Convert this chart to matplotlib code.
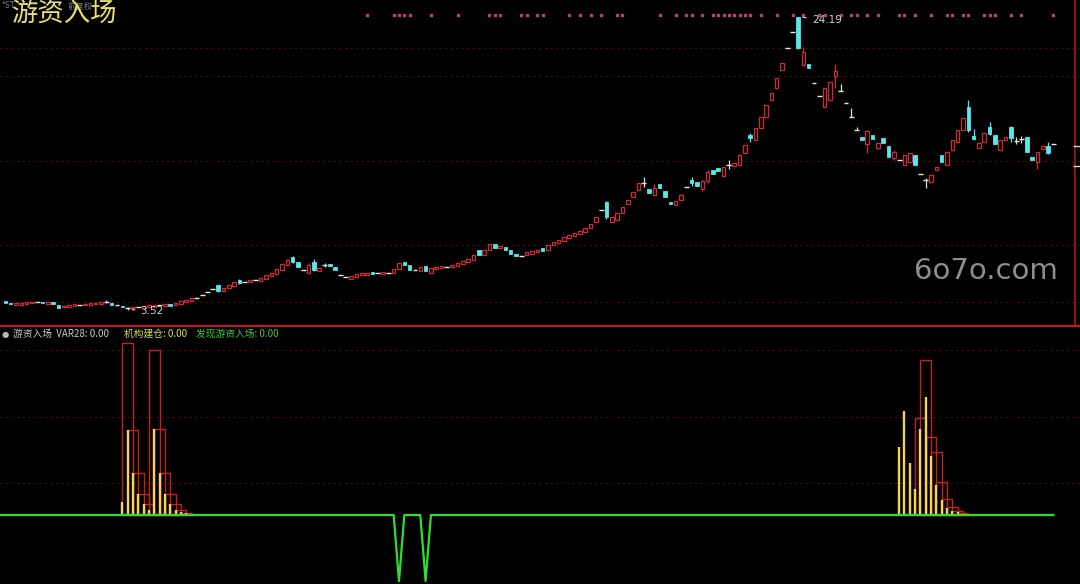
import matplotlib
matplotlib.use("Agg")
import matplotlib.pyplot as plt
import numpy as np
from matplotlib.lines import Line2D

plt.rcParams["font.family"] = ["Noto Sans CJK SC", "DejaVu Sans"]

# daily candles, front-adjusted prices
opens = [
    4.16, 4.02, 3.84, 3.90, 3.96, 3.98, 4.05, 4.10, 3.96, 4.06,
    3.88, 3.70, 3.76, 3.80, 3.88, 3.84, 3.88, 3.92, 3.96, 4.10,
    4.00, 3.84, 3.82, 3.66, 3.64, 3.72, 3.64, 3.70, 3.76, 3.84,
    3.80, 3.94, 3.84, 3.96, 4.06, 4.16, 4.40, 4.58, 4.76, 4.98,
    5.25, 4.88, 5.04, 5.22, 5.66, 5.48, 5.46, 5.62, 5.58, 5.74,
    5.90, 6.06, 6.34, 6.70, 7.28, 6.92, 6.34, 6.15, 6.90, 6.30,
    6.66, 6.78, 6.56, 5.99, 5.85, 5.70, 5.86, 5.98, 6.02, 6.18,
    6.12, 6.04, 6.10, 6.10, 6.42, 6.92, 6.68, 6.34, 6.28, 6.62,
    6.15, 6.44, 6.50, 6.58, 6.52, 6.62, 6.76, 6.92, 7.08, 7.78,
    7.42, 7.76, 8.15, 7.86, 7.98, 7.75, 7.44, 7.33, 7.40, 7.50,
    7.60, 7.86, 7.72, 8.08, 8.28, 8.42, 8.60, 8.74, 8.88, 9.02,
    9.30, 9.73, 10.58, 11.15, 9.75, 9.90, 10.36, 11.02, 11.48, 11.96,
    12.48, 12.05, 11.66, 12.38, 11.90, 11.16, 10.95, 11.30, 12.20, 12.70,
    12.52, 12.08, 12.60, 13.40, 13.55, 13.00, 13.75, 13.66, 13.75, 14.60,
    15.87, 15.50, 16.36, 17.10, 18.34, 19.20, 20.45, 22.00, 23.10, 24.19,
    20.80, 20.85, 19.50, 18.60, 17.84, 18.34, 20.05, 19.00, 18.10, 17.14,
    16.22, 15.75, 15.20, 15.85, 14.98, 15.62, 15.12, 14.26, 14.10, 13.76,
    13.96, 14.45, 13.10, 12.70, 12.58, 13.40, 14.45, 13.76, 14.80, 15.38,
    16.22, 17.82, 15.80, 14.92, 15.40, 16.45, 15.90, 14.80, 15.50, 16.40,
    15.45, 15.55, 15.70, 14.34, 13.98, 14.90, 15.10, 15.20,
]
closes = [
    4.02, 3.92, 3.98, 4.04, 4.08, 4.10, 4.05, 3.98, 4.06, 3.94,
    3.66, 3.82, 3.88, 3.92, 3.88, 3.96, 4.00, 4.04, 4.10, 4.10,
    3.86, 3.84, 3.70, 3.66, 3.76, 3.72, 3.78, 3.84, 3.88, 3.84,
    3.94, 3.80, 4.00, 4.14, 4.24, 4.36, 4.40, 4.58, 4.76, 4.98,
    4.85, 5.10, 5.28, 5.46, 5.40, 5.48, 5.64, 5.62, 5.80, 5.96,
    6.14, 6.40, 6.74, 7.05, 6.92, 6.58, 6.34, 6.68, 6.36, 6.46,
    6.66, 6.60, 6.34, 5.99, 5.85, 5.92, 6.04, 6.10, 6.16, 6.06,
    6.12, 6.18, 6.10, 6.40, 6.80, 6.68, 6.36, 6.34, 6.55, 6.27,
    6.48, 6.58, 6.64, 6.58, 6.66, 6.80, 6.96, 7.12, 7.40, 7.42,
    7.78, 8.15, 7.92, 8.04, 7.78, 7.46, 7.30, 7.33, 7.62, 7.66,
    7.74, 7.70, 8.10, 8.35, 8.48, 8.64, 8.80, 8.94, 9.08, 9.32,
    9.58, 10.08, 10.58, 10.08, 10.10, 10.34, 10.80, 11.30, 11.84, 12.50,
    12.48, 11.80, 12.16, 12.15, 11.52, 10.98, 11.18, 11.65, 12.20, 12.50,
    12.26, 12.62, 13.28, 13.10, 13.33, 13.60, 13.75, 13.92, 14.42, 15.18,
    15.62, 16.34, 17.12, 18.00, 18.85, 19.90, 20.95, 22.00, 23.10, 22.00,
    21.70, 20.62, 19.50, 18.60, 19.18, 19.62, 20.40, 19.00, 18.10, 17.14,
    16.22, 15.50, 16.15, 15.55, 15.28, 15.30, 14.34, 14.68, 14.10, 14.44,
    14.60, 13.76, 13.10, 12.70, 13.04, 13.62, 13.98, 14.66, 15.48, 16.22,
    17.05, 16.22, 15.58, 15.32, 15.98, 15.95, 15.20, 15.50, 15.72, 15.62,
    15.45, 15.55, 14.70, 14.12, 14.66, 15.12, 14.60, 15.20,
]

# candles with a visible shadow
wick_idx = [19, 23, 40, 44, 53, 54, 57, 58, 60, 113, 120, 122, 129, 131, 132,
            136, 140, 149, 150, 156, 157, 159, 160, 162, 167, 173, 181, 182,
            185, 189, 190, 191, 194, 196]
wick_high = [4.20, 3.70, 5.30, 5.70, 7.15, 7.35, 6.80, 7.10, 6.80, 11.20, 12.90,
             12.40, 12.90, 12.70, 13.40, 14.10, 16.00, 24.19, 22.10, 20.90, 19.45,
             17.80, 16.45, 16.25, 14.80, 12.80, 18.35, 16.30, 16.80, 16.50, 15.70,
             15.80, 14.70, 15.40]
wick_low = [4.00, 3.52, 4.80, 5.38, 6.65, 6.85, 6.05, 6.30, 6.55, 9.95, 12.20,
            11.60, 12.30, 11.90, 12.50, 13.50, 15.40, 21.90, 20.70, 19.20, 19.00,
            17.14, 16.22, 14.60, 14.10, 12.10, 16.10, 15.50, 15.90, 15.40, 15.20,
            15.30, 13.50, 14.50]

# pink signal dots along the top
dot_idx = [68, 73, 74, 75, 76, 80, 85, 91, 92, 93, 97, 98, 100, 101, 106, 108,
           110, 112, 115, 116, 123, 126, 128, 129, 131, 133, 134, 135, 136, 137,
           138, 139, 140, 142, 145, 148, 150, 153, 154, 157, 159, 160, 162, 164,
           168, 169, 171, 174, 177, 178, 180, 181, 184, 185, 186, 189, 191, 197]
dot_level = 24.33
price_grid = [22.0, 20.03, 14.03, 8.11, 4.08]

# indicator panel
yellow_left_idx = list(range(22, 36))
yellow_left = [7.9, 51.5, 25.5, 12.7, 6.7, 3.0, 52.1, 25.5, 12.7, 6.7, 3.0, 1.8, 1.0, 0.5]
red_left_idx = list(range(22, 34))
red_left = [104, 51.5, 25.5, 12.7, 6.7, 100, 52, 25.5, 12.7, 6.7, 3.0, 1.5]
yellow_right_idx = list(range(168, 180))
yellow_right = [41.4, 63.0, 31.7, 15.8, 52.0, 71.7, 35.8, 18.2, 9.1, 4.4, 2.6, 1.6]
red_right_idx = list(range(171, 180))
red_right = [59, 94, 47, 38, 20, 10, 5, 2.5, 1.2]
spike_idx = [74, 79]
spike_depth = [-40, -40]
ind_grid = [19.4, 59.4, 100]

RED = "#d02a3a"
CYAN = "#58e8e8"
BG = "#000000"
GRID = "#4a0e0e"

W, H = 1080, 584
fig = plt.figure(figsize=(W / 100, H / 100), dpi=100, facecolor=BG)
ax = fig.add_axes([0, 259 / H, 1, 325 / H])
ax2 = fig.add_axes([0, 0, 1, 256 / H])
xlim = (-0.996, 202.0)
for a in (ax, ax2):
    a.set_facecolor(BG)
    a.set_xlim(*xlim)
    a.set_xticks([])
    a.set_yticks([])
    for s in a.spines.values():
        s.set_visible(False)

ax.set_ylim(2.46, 25.39)
ax2.set_ylim(-41.8, 113.3)

for g in price_grid:
    ax.axhline(g, color=GRID, lw=0.8, ls=(0, (2, 3)), zorder=0)
for g in ind_grid:
    ax2.axhline(g, color=GRID, lw=0.8, ls=(0, (2, 3)), zorder=0)

o = np.array(opens)
c = np.array(closes)
x = np.arange(len(o))
up = c > o
down = c < o
flat = c == o

ax.vlines(np.array(wick_idx), wick_low, wick_high,
          colors=[RED if up[i] else (CYAN if down[i] else "#e0e0e0") for i in wick_idx],
          lw=0.9, zorder=2)
bw = 0.66
ax.bar(x[up], (c - o)[up], bottom=o[up], width=bw, facecolor=BG,
       edgecolor=RED, lw=0.9, zorder=3)
ax.bar(x[down], (o - c)[down], bottom=c[down], width=bw, facecolor=CYAN,
       edgecolor=CYAN, lw=0.6, zorder=3)
ax.hlines(c[flat], x[flat] - 0.45, x[flat] + 0.45, colors="#e8e8e8", lw=1.0, zorder=3)

ax.scatter(dot_idx, [dot_level] * len(dot_idx), s=1.4, color="#b04462", marker="s", zorder=2)

ax.annotate("24.19", xy=(149.4, 24.19), xytext=(151.6, 23.95), color="#d0d0d0",
            fontsize=7.5, va="center", family="DejaVu Sans",
            arrowprops=dict(arrowstyle="-", color="#d0d0d0", lw=0.8))
ax.annotate("3.52", xy=(23.3, 3.56), xytext=(25.4, 3.42), color="#d0d0d0",
            fontsize=7.5, va="center", family="DejaVu Sans",
            arrowprops=dict(arrowstyle="-", color="#d0d0d0", lw=0.8))

# right edge price markers
ax.axvline(201.0, color="#b01818", lw=1.2)
ax.hlines([15.09, 13.68], 200.6, 202.0, colors="#d8d8d8", lw=1.0)

# indicator panel bars
ax2.bar(red_left_idx, red_left, width=2.0, align="edge", fill=False,
        edgecolor="#c42020", lw=1.0, zorder=3)
ax2.bar(red_right_idx, red_right, width=2.0, align="edge", fill=False,
        edgecolor="#c42020", lw=1.0, zorder=3)
ax2.vlines(yellow_left_idx, 0, yellow_left, colors="#f2d35c", lw=1.7, zorder=4)
ax2.vlines(yellow_right_idx, 0, yellow_right, colors="#f2d35c", lw=1.7, zorder=4)

green = np.zeros(len(o))
green[spike_idx] = spike_depth
ax2.plot(np.concatenate([[-1.0], x]), np.concatenate([[0.0], green]),
         color="#2ee02e", lw=1.6, zorder=5)

# panel divider
fig.add_artist(Line2D([0, 1], [1 - 326 / H, 1 - 326 / H], color="#c01c1c", lw=1.6))

# titles (the grey security line sits behind the big yellow title, as in the source)
fig.text(1 / W, 1 - 6 / H, "*ST", color="#7a7a7a", fontsize=6, va="center")
fig.text(68 / W, 1 - 6 / H, "前复权", color="#7a7a7a", fontsize=6, va="center")
fig.text(11 / W, 1 - 13 / H, "游资入场", color="#e8e070", fontsize=19, va="center")

hy = 1 - 334 / H
fig.text(2 / W, hy, "●", color="#b8b8b8", fontsize=6, va="center", family="DejaVu Sans")
fig.text(13 / W, hy, "游资入场  VAR28: 0.00", color="#c8c8c8", fontsize=7, va="center")
fig.text(124 / W, hy, "机构建仓: 0.00", color="#d8d860", fontsize=7, va="center")
fig.text(196 / W, hy, "发现游资入场: 0.00", color="#3cc83c", fontsize=7, va="center")

fig.text(986 / W, 1 - 271 / H, "6o7o.com", color="#8e8e8e", fontsize=21,
         ha="center", va="center", family="DejaVu Sans")

fig.savefig("out.png", dpi=100, facecolor=BG)
